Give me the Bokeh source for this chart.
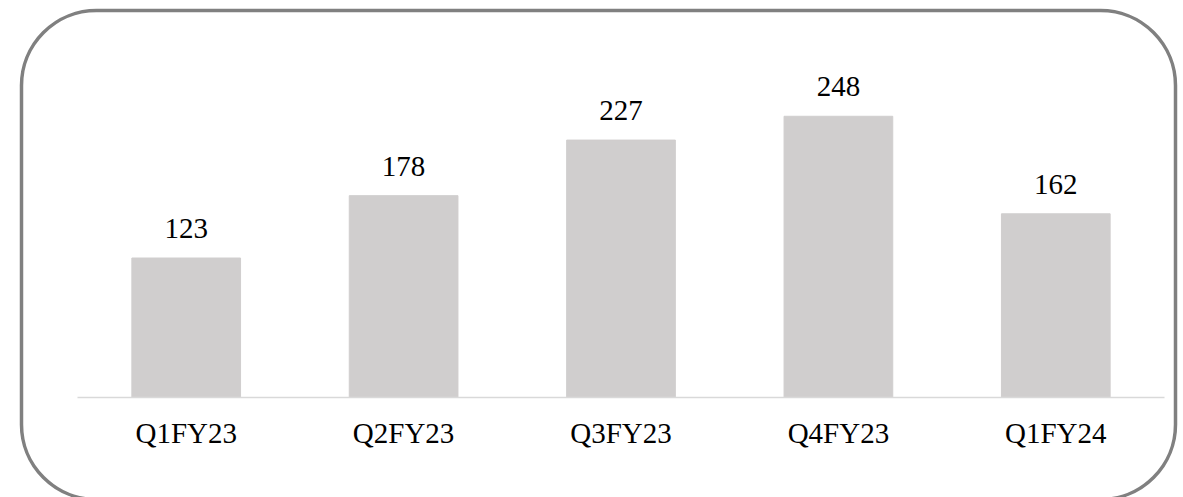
from bokeh.plotting import figure
from bokeh.models import (ColumnDataSource, BoxAnnotation, Range1d, LabelSet, Node,
                          FixedTicker)
from bokeh.embed import file_html
from bokeh.resources import INLINE

quarters = ["Q1FY23", "Q2FY23", "Q3FY23", "Q4FY23", "Q1FY24"]
values = [123, 178, 227, 248, 162]
labels = [str(v) for v in values]

xs = [i + 0.5 for i in range(len(quarters))]
src = ColumnDataSource(dict(x=xs, v=values, lab=labels))

W, H = 1183, 497
CAT = (1164 - 77) / len(quarters)  # px per category
PPU = 1.134                         # px per value unit
p = figure(width=W, height=H, output_backend="svg", toolbar_location=None,
           min_border=0, min_border_left=0, min_border_right=0,
           min_border_top=0, min_border_bottom=0)
p.x_range = Range1d(-77 / CAT, len(quarters) + 19 / CAT)
p.y_range = Range1d(-100 / PPU, 397 / PPU)
p.vbar(x="x", top="v", width=0.5, source=src, color="#D0CECE")

p.add_layout(LabelSet(x="x", y="v", text="lab", source=src, y_offset=20,
                      text_align="center", text_baseline="alphabetic",
                      text_font="Liberation Serif", text_font_size="29px",
                      text_color="#000000"))

p.yaxis.visible = False
p.grid.visible = False
p.outline_line_color = None
p.border_fill_color = "white"
xa = p.xaxis[0]
xa.fixed_location = 0
xa.bounds = (0, len(quarters))
xa.ticker = FixedTicker(ticks=xs)
xa.major_label_overrides = {x: q for x, q in zip(xs, quarters)}
xa.axis_line_color = "#D9D9D9"
xa.axis_line_width = 1.5
xa.major_tick_line_color = None
xa.minor_tick_line_color = None
xa.major_label_standoff = 13
xa.major_label_text_font = "Liberation Serif"
xa.major_label_text_font_size = "29px"
xa.major_label_text_color = "#000000"

p.add_layout(BoxAnnotation(left=Node(target="canvas", symbol="left", offset=21),
                           right=Node(target="canvas", symbol="left", offset=1175),
                           top=Node(target="canvas", symbol="top", offset=10),
                           bottom=Node(target="canvas", symbol="top", offset=499),
                           fill_color=None, fill_alpha=0, line_color="#808080",
                           line_alpha=1, line_width=3.5,
                           border_radius=75, level="overlay"))

open("out.html", "w").write(file_html(p, INLINE))
